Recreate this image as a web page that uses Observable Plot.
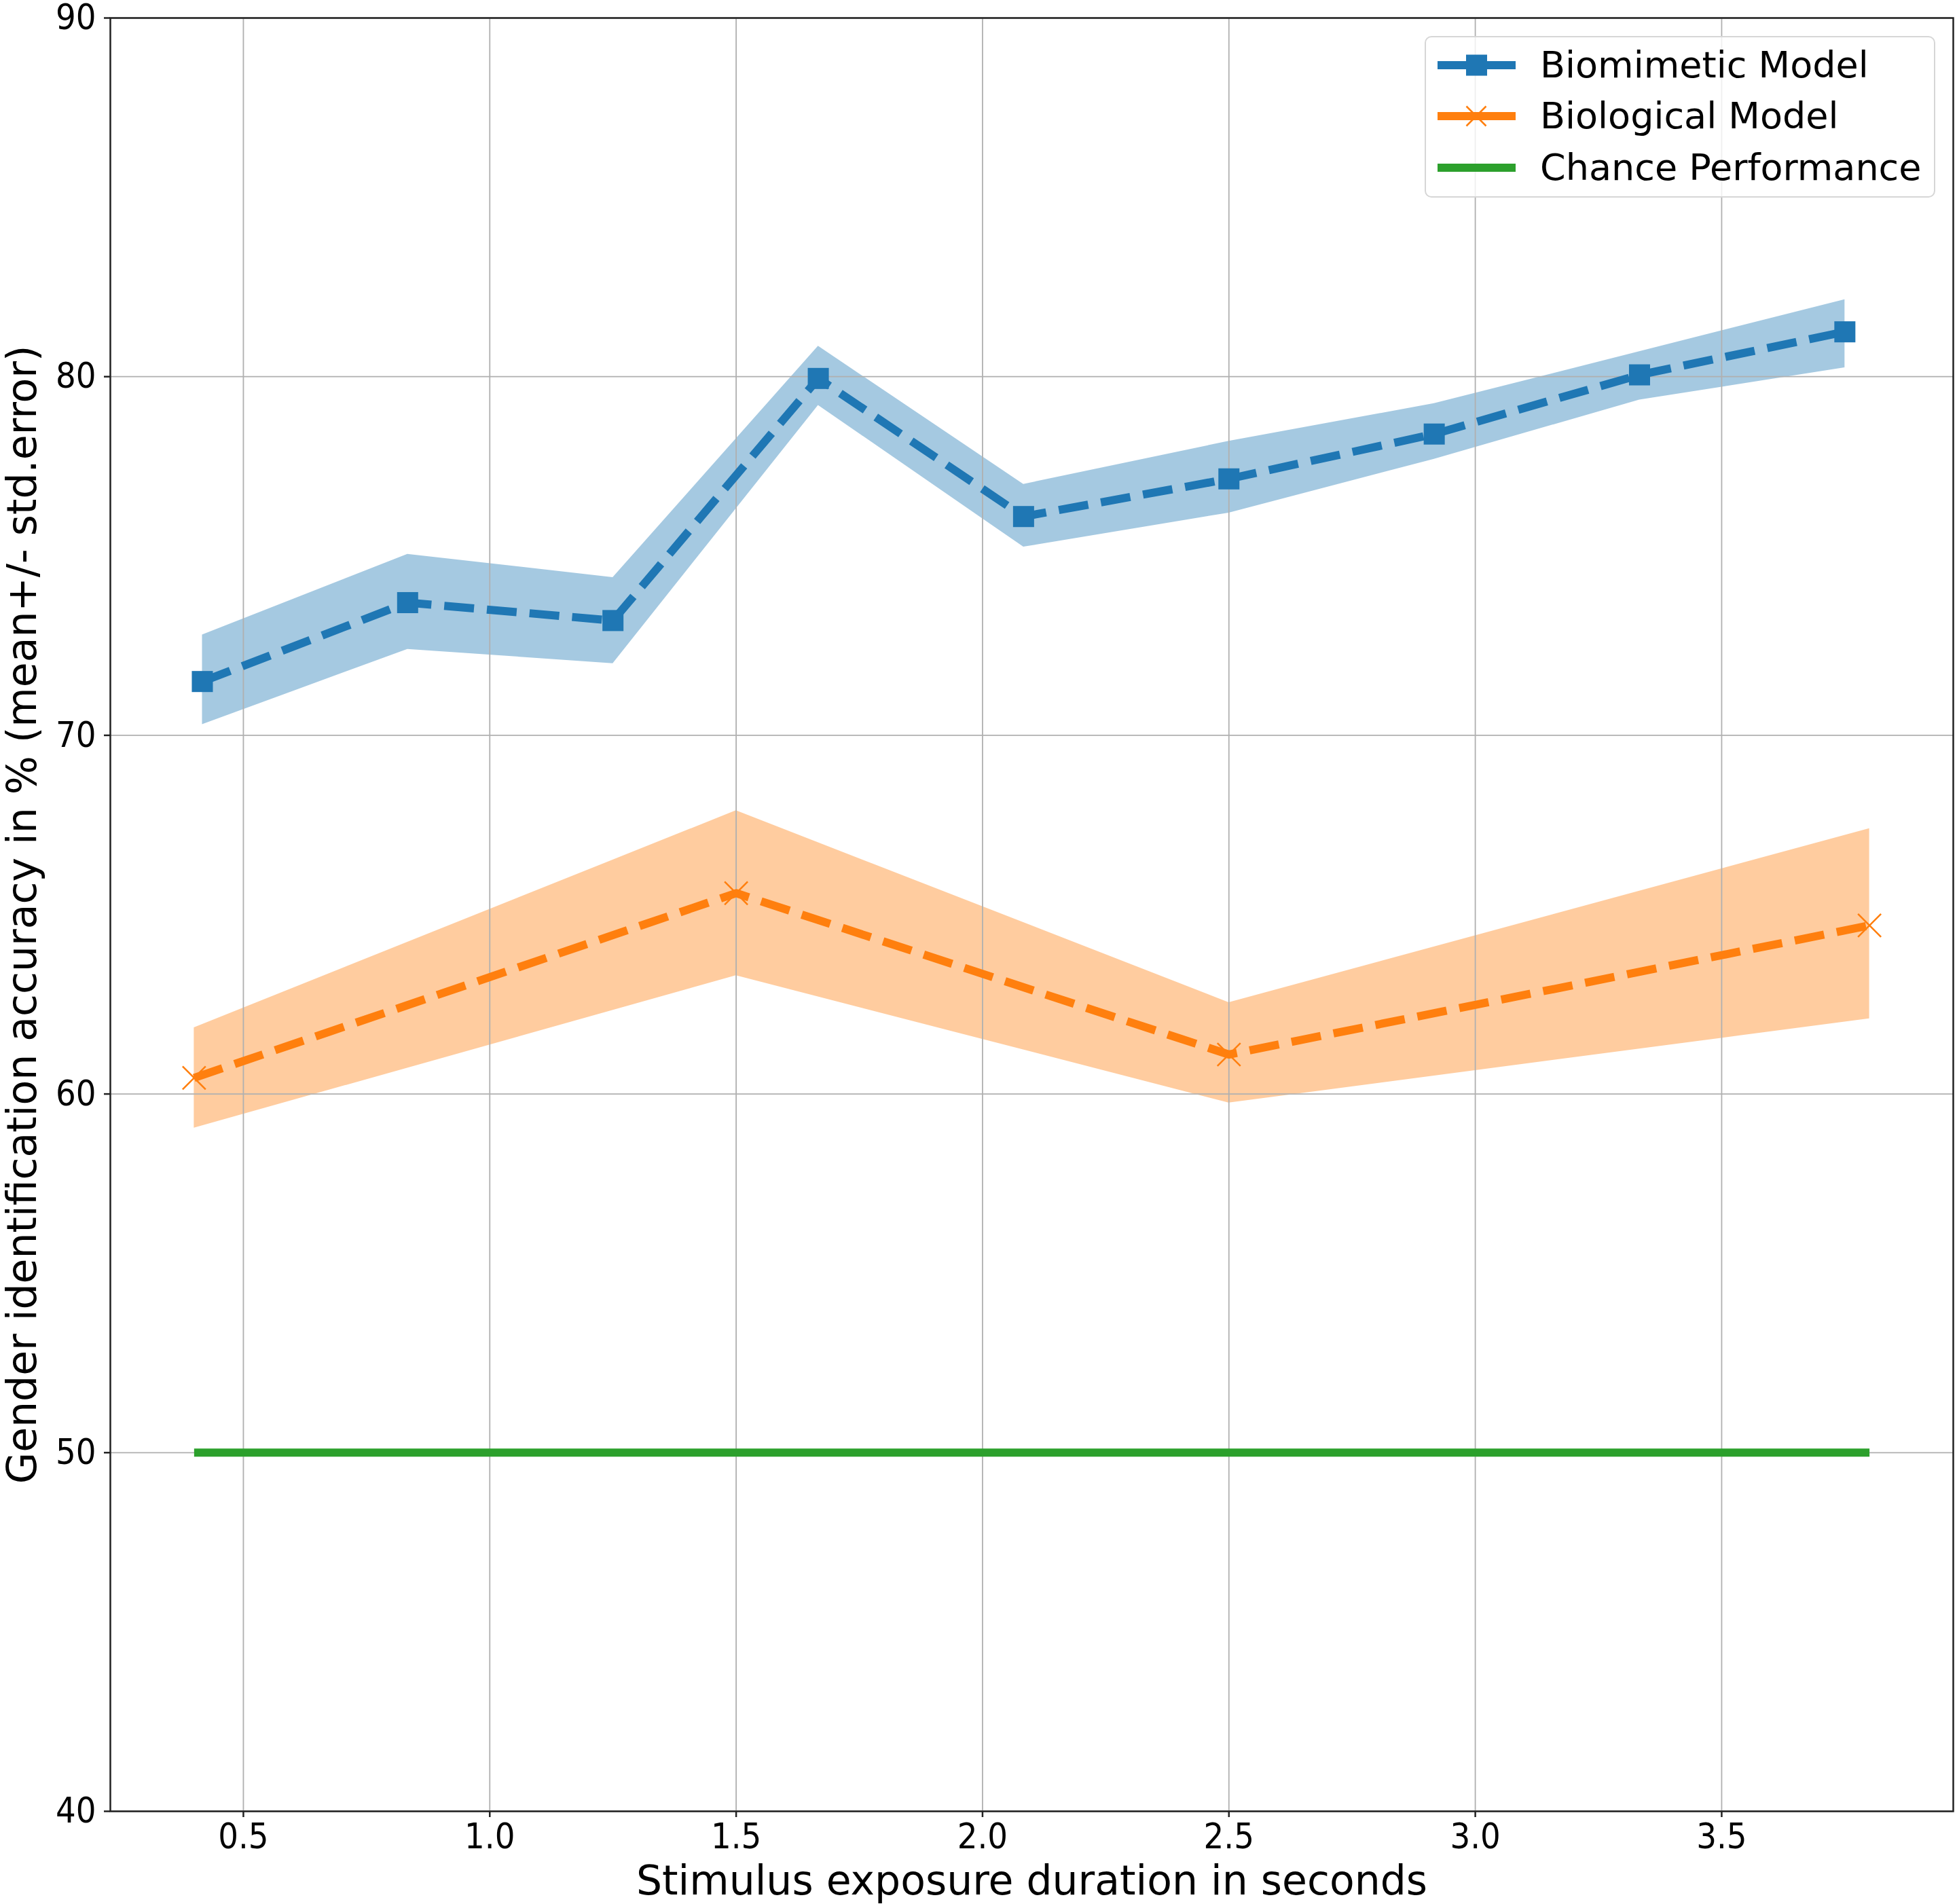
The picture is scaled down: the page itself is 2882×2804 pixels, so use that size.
<!DOCTYPE html>
<html>
<head>
<meta charset="utf-8">
<script src="https://cdn.jsdelivr.net/npm/d3@7"></script>
<script src="https://cdn.jsdelivr.net/npm/@observablehq/plot@0.6"></script>
<style>
  html, body { margin: 0; padding: 0; background: #fff; }
  #wrap { position: relative; width: 2882px; height: 2804px; font-family: "DejaVu Sans", sans-serif; }
  #wrap svg { display: block; }
  #legend { position: absolute; left: 2098px; top: 53px; width: 752px; height: 238px; box-sizing: border-box;
            border: 2.5px solid #d6d6d6; border-radius: 10px; background: rgba(255,255,255,0.8); }
  .row { position: absolute; left: 0; height: 60px; width: 100%; }
  .row svg { position: absolute; left: 15px; top: 0; }
  .row span { position: absolute; left: 168px; top: 0; line-height: 60px; font-size: 54px; color: #000; white-space: nowrap; }
  .tk text { font-family: "DejaVu Sans Condensed", "DejaVu Sans", sans-serif; }
</style>
</head>
<body>
<div id="wrap"></div>
<script>
// ---- data ----
const biomimeticX    = [0.4167, 0.8333, 1.25, 1.6667, 2.0833, 2.5, 2.9167, 3.3333, 3.75];
const biomimeticMean = [71.5, 73.7, 73.2, 79.95, 76.1, 77.15, 78.4, 80.05, 81.25];
const biomimeticLow  = [70.3, 72.4, 72.0, 79.2, 75.25, 76.2, 77.7, 79.35, 80.25];
const biomimeticHigh = [72.8, 75.05, 74.4, 80.85, 77.0, 78.2, 79.25, 80.7, 82.15];

const biologicalX    = [0.4, 1.5, 2.5, 3.8];
const biologicalMean = [60.45, 65.6, 61.1, 64.7];
const biologicalLow  = [59.05, 63.3, 59.75, 62.1];
const biologicalHigh = [61.85, 67.9, 62.55, 67.4];

const chanceX = [0.4, 3.8];
const chanceY = [50, 50];

const xTicks = [0.5, 1.0, 1.5, 2.0, 2.5, 3.0, 3.5];
const yTicks = [40, 50, 60, 70, 80, 90];

const seriesNames = ["Biomimetic Model", "Biological Model", "Chance Performance"];
const xLabel = "Stimulus exposure duration in seconds";
const yLabel = "Gender identification accuracy in % (mean+/- std.error)";

const blue = "#1f77b4", orange = "#ff7f0e", green = "#2ca02c";

const bio = biomimeticX.map((x, i) => ({x, y: biomimeticMean[i], lo: biomimeticLow[i], hi: biomimeticHigh[i]}));
const biol = biologicalX.map((x, i) => ({x, y: biologicalMean[i], lo: biologicalLow[i], hi: biologicalHigh[i]}));
const chance = chanceX.map((x, i) => ({x, y: chanceY[i]}));

const chart = Plot.plot({
  width: 2882,
  height: 2804,
  marginLeft: 162,
  marginRight: 6,
  marginTop: 26,
  marginBottom: 137,
  style: { fontFamily: "DejaVu Sans, sans-serif", background: "#fff", color: "#000" },
  x: { domain: [0.23, 3.97] },
  y: { domain: [40, 90] },
  marks: [
    Plot.areaY(bio, { x: "x", y1: "lo", y2: "hi", fill: blue, fillOpacity: 0.4 }),
    Plot.areaY(biol, { x: "x", y1: "lo", y2: "hi", fill: orange, fillOpacity: 0.4 }),
    Plot.gridX({ ticks: xTicks, stroke: "#b0b0b0", strokeOpacity: 1, strokeWidth: 1.8 }),
    Plot.gridY({ ticks: yTicks, stroke: "#b0b0b0", strokeOpacity: 1, strokeWidth: 1.8 }),
    Plot.line(bio, { x: "x", y: "y", stroke: blue, strokeWidth: 12, strokeDasharray: "44,19", strokeLinecap: "butt", strokeLinejoin: "round" }),
    Plot.dot(bio, { x: "x", y: "y", symbol: "square", r: 17.5, fill: blue, stroke: "none" }),
    Plot.line(biol, { x: "x", y: "y", stroke: orange, strokeWidth: 12, strokeDasharray: "44,19", strokeLinecap: "butt", strokeLinejoin: "round" }),
    Plot.dot(biol, { x: "x", y: "y", symbol: "times", r: 15.5, stroke: orange, strokeWidth: 2.5, fill: "none" }),
    Plot.line(chance, { x: "x", y: "y", stroke: green, strokeWidth: 12, strokeLinecap: "butt" }),
    Plot.axisX({ ticks: xTicks, tickFormat: d => d.toFixed(1), tickSize: 9, tickPadding: 9, fontSize: 52, label: null, stroke: "#222", strokeWidth: 2.5, className: "tk" }),
    Plot.axisY({ ticks: yTicks, tickFormat: d => String(d), tickSize: 9, tickPadding: 12, fontSize: 52, label: null, stroke: "#222", strokeWidth: 2.5, className: "tk" }),
    Plot.text([xLabel], { frameAnchor: "bottom", lineAnchor: "middle", text: d => d, dy: 103, fontSize: 60, fill: "#000" }),
    Plot.text([yLabel], { frameAnchor: "left", textAnchor: "middle", lineAnchor: "middle", text: d => d, dx: -129, rotate: -90, fontSize: 60, fill: "#000" }),
    Plot.frame({ stroke: "#222", strokeWidth: 2.5 })
  ]
});

const wrap = document.getElementById("wrap");
wrap.appendChild(chart);

// ---- legend (inside the axes, top right) ----
const legend = document.createElement("div");
legend.id = "legend";
const rowTops = [11, 86, 162];
const swatches = [
  `<svg width="120" height="60"><line x1="2" y1="30" x2="117" y2="30" stroke="${blue}" stroke-width="12"/><rect x="44" y="14.5" width="31" height="31" fill="${blue}"/></svg>`,
  `<svg width="120" height="60"><line x1="2" y1="30" x2="117" y2="30" stroke="${orange}" stroke-width="12"/><path d="M44.5,15.5L73.5,44.5M44.5,44.5L73.5,15.5" stroke="${orange}" stroke-width="2.5" fill="none"/></svg>`,
  `<svg width="120" height="60"><line x1="2" y1="30" x2="117" y2="30" stroke="${green}" stroke-width="12"/></svg>`
];
seriesNames.forEach((name, i) => {
  const row = document.createElement("div");
  row.className = "row";
  row.style.top = rowTops[i] + "px";
  row.innerHTML = swatches[i] + `<span>${name}</span>`;
  legend.appendChild(row);
});
wrap.appendChild(legend);
</script>
</body>
</html>
